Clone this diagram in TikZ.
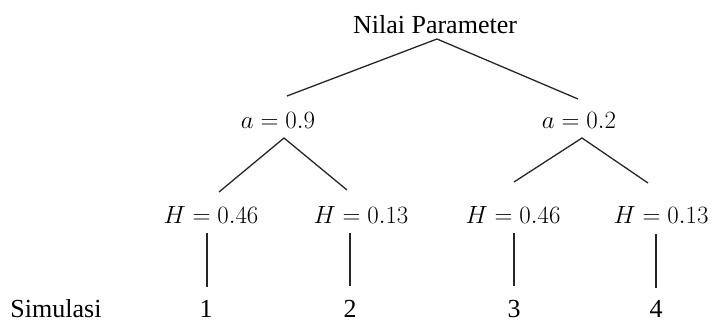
\documentclass[tikz,border=0pt]{standalone}
\usepackage{fontspec}
\setmainfont{Liberation Serif}
\begin{document}
\begin{tikzpicture}[x=1pt,y=-1pt,
  lbl/.style={anchor=base,inner sep=0pt,font=\fontsize{26}{30}\selectfont},
  conn/.style={line width=1.3pt,draw=black!85}]
\useasboundingbox (0,0) rectangle (714,324);
% labels
\node[lbl] (root) at (435,33) {Nilai Parameter};
\node[lbl] (a1) at (278,128) {$a = 0.9$};
\node[lbl] (a2) at (579,128) {$a = 0.2$};
\node[lbl] (h1) at (211,223) {$H = 0.46$};
\node[lbl] (h2) at (361,223) {$H = 0.13$};
\node[lbl] (h3) at (513,223) {$H = 0.46$};
\node[lbl] (h4) at (661,223) {$H = 0.13$};
\node[lbl] (sim) at (56,317) {Simulasi};
\node[lbl] (s1) at (206,317) {1};
\node[lbl] (s2) at (350,317) {2};
\node[lbl] (s3) at (514,317) {3};
\node[lbl] (s4) at (656,317) {4};
% connector end points
\coordinate (r0) at (437,39);
\coordinate (r1) at (287,96);
\coordinate (r2) at (578,99);
\coordinate (a1t) at (284,138);
\coordinate (a1l) at (219,192);
\coordinate (a1r) at (347,190);
\coordinate (a2t) at (582,138);
\coordinate (a2l) at (514,182);
\coordinate (a2r) at (648,183);
\coordinate (h1b) at (207,233);
\coordinate (s1t) at (207,287);
\coordinate (h2b) at (350,233);
\coordinate (s2t) at (350,286);
\coordinate (h3b) at (514,233);
\coordinate (s3t) at (514,286);
\coordinate (h4b) at (656,234);
\coordinate (s4t) at (656,288);
% connectors
\draw[conn] (r1) -- (r0) -- (r2);
\draw[conn] (a1l) -- (a1t) -- (a1r);
\draw[conn] (a2l) -- (a2t) -- (a2r);
\draw[conn] (h1b) -- (s1t);
\draw[conn] (h2b) -- (s2t);
\draw[conn] (h3b) -- (s3t);
\draw[conn] (h4b) -- (s4t);
\end{tikzpicture}
\end{document}
